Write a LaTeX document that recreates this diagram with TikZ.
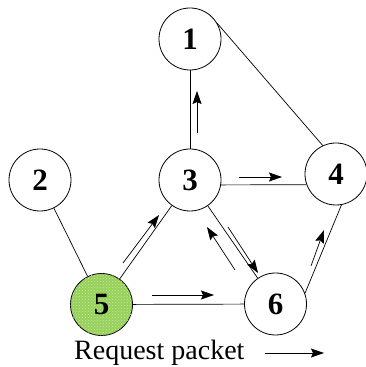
\documentclass[tikz,border=0pt]{standalone}
\usepackage{fontspec}
\setmainfont{Liberation Serif}
\usetikzlibrary{arrows.meta,patterns}
\definecolor{nodegreen}{RGB}{150,208,90}
\definecolor{dotgreen}{RGB}{200,235,160}
\begin{document}
\begin{tikzpicture}[x=1pt,y=1pt,
  netnode/.style={circle,draw,line width=0.8pt,minimum size=62pt,inner sep=0pt,font=\fontsize{31}{31}\selectfont\bfseries},
  link/.style={line width=0.7pt},
  pkt/.style={line width=0.7pt,-{Stealth[length=13pt,width=9pt,inset=2pt]}}]
\useasboundingbox (0,0) rectangle (366,367);
% nodes (y = 367 - ypx)
\node[netnode] (n1) at (190,328) {1};
\node[netnode] (n2) at (40,187) {2};
\node[netnode] (n3) at (190,187) {3};
\node[netnode] (n4) at (336,193) {4};
\node[netnode,fill=nodegreen,postaction={pattern=crosshatch dots,pattern color=dotgreen}] (n5) at (101.5,62.5) {};
\node[font=\fontsize{31}{31}\selectfont\bfseries] (l5) at (n5.center) {5};
\node[netnode] (n6) at (275.5,63) {6};
% links
\draw[link] (n1) -- (n3);
\draw[link] (n1.30) -- (n4.115);
\draw[link] (n3.-9) -- (n4.200);
\draw[link] (n2) -- (n5);
\draw[link] (n5) -- (n3);
\draw[link] (n3) -- (n6);
\draw[link] (n5) -- (n6);
\draw[link] (n6.20) -- (n4.-80);
% request packet arrows
\coordinate (a1s) at (197,234); \coordinate (a1e) at (197,276);
\draw[pkt] (a1s) -- (a1e);
\coordinate (a2s) at (239,190); \coordinate (a2e) at (282,190);
\draw[pkt] (a2s) -- (a2e);
\coordinate (a3s) at (123,104); \coordinate (a3e) at (159,152);
\draw[pkt] (a3s) -- (a3e);
\coordinate (a4s) at (235,97); \coordinate (a4e) at (207,140);
\draw[pkt] (a4s) -- (a4e);
\coordinate (a5s) at (228,140); \coordinate (a5e) at (258,94);
\draw[pkt] (a5s) -- (a5e);
\coordinate (a6s) at (152,72); \coordinate (a6e) at (214,72);
\draw[pkt] (a6s) -- (a6e);
\coordinate (a7s) at (311,101); \coordinate (a7e) at (324,137);
\draw[pkt] (a7s) -- (a7e);
% legend
\node[anchor=base west,font=\fontsize{28}{28}\selectfont,inner sep=0pt] (leg) at (74,8) {Request packet};
\coordinate (lgs) at (265,14); \coordinate (lge) at (324,14);
\draw[pkt] (lgs) -- (lge);
\end{tikzpicture}
\end{document}
